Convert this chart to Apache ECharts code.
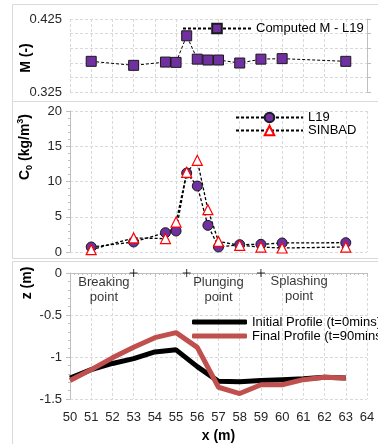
<!DOCTYPE html>
<html>
<head>
<meta charset="utf-8">
<script src="https://cdn.jsdelivr.net/npm/echarts@6/dist/echarts.min.js"></script>
<style>
  html, body { margin: 0; padding: 0; background: #fff; }
  #chart { width: 378px; height: 444px; }
</style>
</head>
<body>
<div id="chart"></div>
<script>
// sampling positions (m)
const xPos = [51, 53, 54.5, 55, 55.5, 56, 56.5, 57, 58, 59, 60, 63];
// mixing parameter M
const mL19 = [0.367, 0.3615, 0.366, 0.3656, 0.402, 0.370, 0.3688, 0.3688, 0.3647, 0.370, 0.3707, 0.367];
// reference concentration C0 (kg/m3)
const c0L19 = [0.71, 1.42, 2.74, 2.98, 11.2, 9.36, 3.78, 0.71, 1.04, 1.09, 1.28, 1.32];
const c0Sinbad = [0.33, 2.0, 1.9, 4.25, 11.3, 13.0, 6.0, 1.5, 0.95, 0.7, 0.57, 0.7];
// bed profile
const profileX = [50, 51, 52, 53, 54, 55, 56, 57, 58, 59, 60, 61, 62, 63];
const zInitial = [-1.25, -1.15, -1.077, -1.02, -0.94, -0.915, -1.115, -1.29, -1.296, -1.28, -1.27, -1.26, -1.24, -1.25];
const zFinal = [-1.28, -1.15, -1.01, -0.885, -0.77, -0.71, -0.885, -1.36, -1.435, -1.33, -1.33, -1.27, -1.24, -1.25];
// breaking / plunging / splashing markers
const markX = [53, 55.5, 59];
const markZ = [0, 0, 0];
const noteX = [51.6, 57.0, 60.8];
const noteZ = [-0.2, -0.2, -0.19];
const noteText = ['Breaking\npoint', 'Plunging\npoint', 'Splashing\npoint'];
const xTicks = [50, 64, 1];

const FONT = 'Liberation Sans, Arial, sans-serif';
const gridLine = { show: true, lineStyle: { color: '#d9d9d9', type: [3, 2], width: 1 } };
const axisGray = { show: true, lineStyle: { color: '#bfbfbf', width: 1 } };
const lbl = { color: '#262626', fontSize: 13, fontFamily: FONT };

const pairs = (xs, ys) => xs.map((x, i) => [x, ys[i]]);

function xAxisFor(gridIndex, showLabels) {
  return {
    type: 'value', gridIndex: gridIndex,
    min: xTicks[0], max: xTicks[1], interval: xTicks[2],
    axisLine: showLabels ? axisGray : { show: false },
    axisTick: { show: showLabels, length: 4, lineStyle: { color: '#bfbfbf' } },
    minorTick: { show: showLabels, splitNumber: 5, length: 2, lineStyle: { color: '#bfbfbf' } },
    axisLabel: Object.assign({ show: showLabels, margin: 12 }, lbl),
    splitLine: gridLine,
    name: showLabels ? 'x (m)' : '',
    nameLocation: 'middle', nameGap: 30,
    nameTextStyle: { fontSize: 14, fontWeight: 'bold', color: '#000', fontFamily: FONT }
  };
}

const chart = echarts.init(document.getElementById('chart'));

chart.setOption({
  animation: false,
  backgroundColor: '#fff',
  textStyle: { fontFamily: FONT },
  grid: [
    { left: 70, right: 11, top: 19, height: 73 },
    { left: 70, right: 11, top: 111, height: 141 },
    { left: 70, right: 11, top: 273, height: 130 }
  ],
  xAxis: [xAxisFor(0, false), xAxisFor(1, false), xAxisFor(2, true)],
  yAxis: [
    {
      type: 'value', gridIndex: 0, min: 0.325, max: 0.425,
      axisLine: { show: false }, axisTick: { show: false }, splitLine: { show: false },
      axisLabel: Object.assign({ customValues: [0.325, 0.425], margin: 8 }, lbl)
    },
    {
      type: 'value', gridIndex: 0, min: 0, max: 5, interval: 1,
      axisLine: axisGray, axisTick: { show: true, length: 4, lineStyle: { color: '#bfbfbf' } },
      axisLabel: { show: false }, splitLine: gridLine
    },
    {
      type: 'value', gridIndex: 1, min: 0, max: 20, interval: 5,
      axisLine: axisGray, axisTick: { show: true, length: 4, lineStyle: { color: '#bfbfbf' } },
      minorTick: { show: true, splitNumber: 5, length: 2, lineStyle: { color: '#bfbfbf' } },
      axisLabel: Object.assign({ margin: 8 }, lbl), splitLine: gridLine
    },
    {
      type: 'value', gridIndex: 2, min: -1.5, max: 0, interval: 0.5,
      axisLine: axisGray, axisTick: { show: true, length: 4, lineStyle: { color: '#bfbfbf' } },
      minorTick: { show: true, splitNumber: 5, length: 2, lineStyle: { color: '#bfbfbf' } },
      axisLabel: Object.assign({ margin: 8 }, lbl), splitLine: gridLine
    }
  ],
  legend: [
    {
      data: ['Computed M - L19'], left: 177, top: 17, itemWidth: 68, itemHeight: 12,
      itemGap: 0, textStyle: Object.assign({}, lbl, { color: '#000' })
    },
    {
      data: ['L19', 'SINBAD'], orient: 'vertical', left: 230, top: 106, itemWidth: 67, itemHeight: 12,
      itemGap: 0, textStyle: Object.assign({}, lbl, { color: '#000', lineHeight: 12 })
    },
    {
      data: [
        { name: 'Initial Profile (t=0mins)', icon: 'roundRect' },
        { name: 'Final Profile (t=90mins)', icon: 'roundRect' }
      ],
      orient: 'vertical', left: 187, top: 310, itemWidth: 55, itemHeight: 5,
      itemGap: 0, textStyle: Object.assign({}, lbl, { color: '#000', lineHeight: 14 })
    }
  ],
  graphic: [
    { type: 'rect', shape: { x: 12.5, y: 4.5, width: 380, height: 97 }, style: { fill: 'none', stroke: '#d9d9d9', lineWidth: 1 }, silent: true, z: -1 },
    { type: 'rect', shape: { x: 12.5, y: 101.5, width: 380, height: 157 }, style: { fill: 'none', stroke: '#d9d9d9', lineWidth: 1 }, silent: true, z: -1 },
    { type: 'rect', shape: { x: 12.5, y: 261.5, width: 380, height: 200 }, style: { fill: 'none', stroke: '#d9d9d9', lineWidth: 1 }, silent: true, z: -1 },
    {
      type: 'text', x: 26, y: 58, rotation: Math.PI / 2,
      style: { text: 'M (-)', fontSize: 14, fontWeight: 'bold', fontFamily: FONT, fill: '#000', align: 'center', verticalAlign: 'middle' }
    },
    {
      type: 'text', x: 25, y: 147, rotation: Math.PI / 2,
      style: {
        text: '{b|C}{sub|0}{b| (kg/m}{sup|3}{b|)}',
        align: 'center', verticalAlign: 'middle',
        rich: {
          b: { fontSize: 14, fontWeight: 'bold', fontFamily: FONT, fill: '#000', lineHeight: 18 },
          sub: { fontSize: 9, fontWeight: 'bold', fontFamily: FONT, fill: '#000', lineHeight: 18, verticalAlign: 'bottom' },
          sup: { fontSize: 9, fontWeight: 'bold', fontFamily: FONT, fill: '#000', lineHeight: 18, verticalAlign: 'top' }
        }
      }
    },
    {
      type: 'text', x: 27, y: 283, rotation: Math.PI / 2,
      style: { text: 'z (m)', fontSize: 14, fontWeight: 'bold', fontFamily: FONT, fill: '#000', align: 'center', verticalAlign: 'middle' }
    }
  ],
  series: [
    {
      name: 'Computed M - L19', type: 'line', xAxisIndex: 0, yAxisIndex: 0,
      data: pairs(xPos, mL19), symbol: 'rect', symbolSize: 10,
      lineStyle: { color: '#000', width: 1, type: [3, 2] },
      itemStyle: { color: '#7030a0', borderColor: '#1a1a1a', borderWidth: 1 }
    },
    {
      name: 'L19', type: 'line', xAxisIndex: 1, yAxisIndex: 2,
      data: pairs(xPos, c0L19), symbol: 'circle', symbolSize: 10,
      lineStyle: { color: '#000', width: 1.3, type: [3, 2] },
      itemStyle: { color: '#7030a0', borderColor: '#1a1a1a', borderWidth: 1 }
    },
    {
      name: 'SINBAD', type: 'line', xAxisIndex: 1, yAxisIndex: 2,
      data: pairs(xPos, c0Sinbad), symbol: 'triangle', symbolSize: 10,
      lineStyle: { color: '#000', width: 1.3, type: [3, 2] },
      itemStyle: { color: '#fff', borderColor: '#ff0000', borderWidth: 1.2 }
    },
    {
      name: 'Initial Profile (t=0mins)', type: 'line', xAxisIndex: 2, yAxisIndex: 3,
      data: pairs(profileX, zInitial), symbol: 'none',
      lineStyle: { color: '#000', width: 5 }, itemStyle: { color: '#000' }
    },
    {
      name: 'Final Profile (t=90mins)', type: 'line', xAxisIndex: 2, yAxisIndex: 3,
      data: pairs(profileX, zFinal), symbol: 'none',
      lineStyle: { color: '#c0504d', width: 5 }, itemStyle: { color: '#c0504d' }
    },
    {
      name: 'marks', type: 'scatter', xAxisIndex: 2, yAxisIndex: 3,
      data: pairs(markX, markZ), symbol: 'path://M4,0L4,8M0,4L8,4', symbolSize: 8,
      itemStyle: { color: 'none', borderColor: '#000', borderWidth: 1 }, silent: true
    },
    {
      name: 'notes', type: 'scatter', xAxisIndex: 2, yAxisIndex: 3,
      data: noteX.map((x, i) => ({ value: [x, noteZ[i]], label: { formatter: noteText[i] } })),
      symbolSize: 0, silent: true,
      label: { show: true, position: 'inside', fontSize: 13, lineHeight: 15, color: '#000', fontFamily: FONT }
    }
  ]
});
</script>
</body>
</html>
